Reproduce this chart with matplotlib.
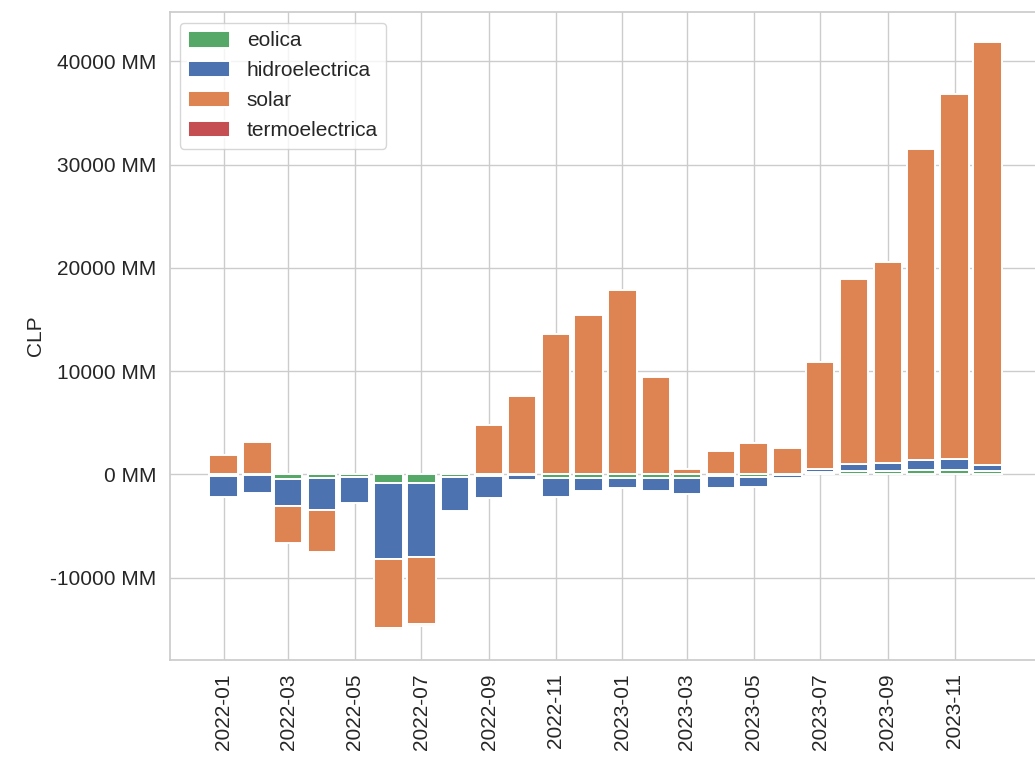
import matplotlib
matplotlib.use('Agg')
import matplotlib.pyplot as plt
import matplotlib.ticker as mticker
import matplotlib.dates as mdates
import seaborn as sns
import numpy as np
import pandas as pd

sns.set_theme(style='whitegrid')
plt.rcParams['font.family'] = ['Liberation Sans', 'DejaVu Sans']

months = pd.date_range('2022-01-01', '2023-12-01', freq='MS')

# monthly values, CLP millions
eolica = [-150, -100, -400, -300, -200, -800, -800, -200, -150, -100, -300, -300,
          -300, -300, -300, -150, -200, -100, 200, 300, 300, 400, 400, 300]
hidroelectrica = [-2000, -1650, -2700, -3100, -2600, -7400, -7200, -3300, -2150, -400,
                  -1900, -1300, -1000, -1300, -1600, -1150, -1000, -200,
                  300, 700, 800, 1000, 1100, 600]
solar = [1900, 3100, -3500, -4100, 0, -6700, -6500, 0, 4750, 7600, 13600, 15400,
         17900, 9400, 500, 2300, 3000, 2600, 10400, 17900, 19500, 30100, 35300, 41000]
termoelectrica = [0, 0, 0, 0, 0, -200, -200, 0, 0, 0, 0, 0,
                  0, 0, 0, 0, 0, 0, 0, 0, 0, 0, 0, 0]

series = [('eolica', eolica, '#55A868'),
          ('hidroelectrica', hidroelectrica, '#4C72B0'),
          ('solar', solar, '#DD8452'),
          ('termoelectrica', termoelectrica, '#C44E52')]

fig = plt.figure(figsize=(10.35, 7.62), dpi=100)
ax = fig.add_axes([0.164, 0.134, 0.842, 0.85])

pos_base = np.zeros(len(months))
neg_base = np.zeros(len(months))
for name, vals, color in series:
    v = np.array(vals, dtype=float)
    bottom = np.where(v > 0, pos_base, np.where(v < 0, neg_base, 0))
    ax.bar(months, v, bottom=bottom, width=26, color=color, label=name,
           edgecolor='white', linewidth=1.4)
    pos_base += np.where(v > 0, v, 0)
    neg_base += np.where(v < 0, v, 0)

ax.set_xticks(months[::2])
ax.xaxis.set_major_formatter(mdates.DateFormatter('%Y-%m'))
ax.yaxis.set_major_formatter(mticker.FuncFormatter(lambda x, p: f'{x:.0f} MM'))
ax.set_ylabel('CLP', fontsize=15)
ax.tick_params(axis='both', labelsize=15)
plt.xticks(rotation=90)
ax.legend(loc='upper left', fontsize=15, handleheight=0.85)

fig.savefig('out.png', dpi=100)
